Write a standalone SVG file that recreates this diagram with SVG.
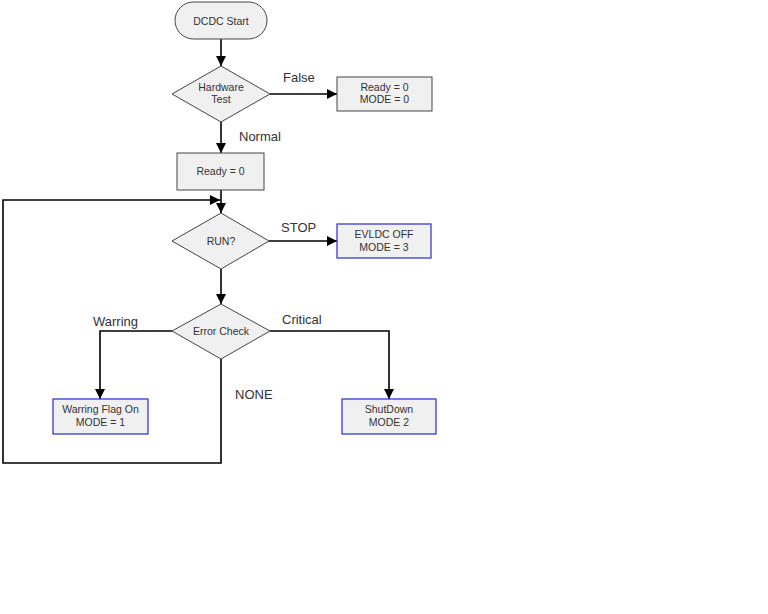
<svg xmlns="http://www.w3.org/2000/svg" width="768" height="614" viewBox="0 0 768 614">
<style>
.n{fill:#f0f0f0;stroke:#444;stroke-width:1}
.b{fill:#f0f0f0;stroke:#2a2acc;stroke-width:1.2}
.t{font-family:"Liberation Sans",Arial,sans-serif;font-size:10.5px;fill:#333;text-anchor:middle}
.l{font-family:"Liberation Sans",Arial,sans-serif;font-size:13px;fill:#333}
.c{fill:none;stroke:#000;stroke-width:1.6}
</style>
<defs>
<marker id="a" viewBox="0 0 10 10" refX="10" refY="5" markerWidth="10" markerHeight="10" markerUnits="userSpaceOnUse" orient="auto">
<path d="M0,0 L10,5 L0,10 z" fill="#000"/>
</marker>
</defs>
<rect width="768" height="614" fill="#fff"/>
<g id="connectors">
<path class="c" d="M221,39 V66" marker-end="url(#a)"/>
<path class="c" d="M270,94 H337" marker-end="url(#a)"/>
<path class="c" d="M221,122 V153" marker-end="url(#a)"/>
<path class="c" d="M221,190 V213" marker-end="url(#a)"/>
<path class="c" d="M269,241 H337" marker-end="url(#a)"/>
<path class="c" d="M221,269 V304" marker-end="url(#a)"/>
<path class="c" d="M172,331 H100 V399" marker-end="url(#a)"/>
<path class="c" d="M270,331 H389 V399" marker-end="url(#a)"/>
<path class="c" d="M221,359 V463 H3 V200 H220" marker-end="url(#a)"/>
</g>
<g id="start">
<rect class="n" x="175" y="2" width="92" height="37" rx="18.5"/>
<text class="t" x="221" y="24.5">DCDC Start</text>
</g>
<g id="hwtest">
<polygon class="n" points="221,66 270,94 221,122 172,94"/>
<text class="t" x="221" y="91">Hardware</text>
<text class="t" x="221" y="103">Test</text>
</g>
<g id="fail">
<rect class="n" x="337" y="77" width="95" height="34"/>
<text class="t" x="384.5" y="91">Ready = 0</text>
<text class="t" x="384.5" y="103">MODE = 0</text>
</g>
<g id="ready">
<rect class="n" x="177" y="153" width="87" height="37"/>
<text class="t" x="220.5" y="175">Ready = 0</text>
</g>
<g id="run">
<polygon class="n" points="221,213 269,241 221,269 172,241"/>
<text class="t" x="221" y="245">RUN?</text>
</g>
<g id="stop">
<rect class="b" x="337" y="224" width="94" height="34"/>
<text class="t" x="384" y="238">EVLDC OFF</text>
<text class="t" x="384" y="251">MODE = 3</text>
</g>
<g id="errcheck">
<polygon class="n" points="221,304 270,331 221,359 172,331"/>
<text class="t" x="221" y="335">Error Check</text>
</g>
<g id="warn">
<rect class="b" x="53" y="399" width="95" height="35"/>
<text class="t" x="100.5" y="413">Warring Flag On</text>
<text class="t" x="100.5" y="426">MODE = 1</text>
</g>
<g id="shutdown">
<rect class="b" x="342" y="399" width="94" height="35"/>
<text class="t" x="389" y="413">ShutDown</text>
<text class="t" x="389" y="426">MODE 2</text>
</g>
<g id="labels">
<text class="l" x="283" y="82">False</text>
<text class="l" x="239" y="141">Normal</text>
<text class="l" x="281" y="232">STOP</text>
<text class="l" x="93" y="326">Warring</text>
<text class="l" x="282" y="324">Critical</text>
<text class="l" x="235" y="399">NONE</text>
</g>
</svg>
